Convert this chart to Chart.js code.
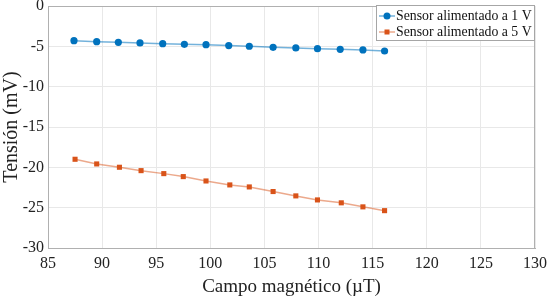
<!DOCTYPE html>
<html>
<head>
<meta charset="utf-8">
<script src="https://cdn.jsdelivr.net/npm/chart.js@4"></script>
<style>
  html, body { margin: 0; padding: 0; background: #fff; }
  #wrap { width: 551px; height: 298px; }
</style>
</head>
<body>
<div id="wrap"><canvas id="myChart" width="551" height="298"></canvas></div>
<script>
// data
var campo1V = [87.4, 89.5, 91.5, 93.5, 95.6, 97.6, 99.6, 101.7, 103.6, 105.8, 107.9, 109.9, 112.0, 114.1, 116.1];
var tension1V = [-4.30, -4.42, -4.50, -4.58, -4.67, -4.75, -4.79, -4.91, -4.99, -5.12, -5.20, -5.29, -5.37, -5.45, -5.58];
var campo5V = [87.5, 89.5, 91.6, 93.6, 95.7, 97.5, 99.6, 101.8, 103.6, 105.8, 107.9, 109.9, 112.1, 114.1, 116.1];
var tension5V = [-19.0, -19.58, -19.99, -20.41, -20.78, -21.15, -21.69, -22.18, -22.43, -23.0, -23.54, -24.04, -24.4, -24.9, -25.37];
var seriesNames = ['Sensor alimentado a 1 V', 'Sensor alimentado a 5 V'];
var xTicks = [85, 90, 95, 100, 105, 110, 115, 120, 125, 130];
var yTicks = [0, -5, -10, -15, -20, -25, -30];

var serif = "'Liberation Serif', 'Times New Roman', serif";

function toPoints(xs, ys) {
    return xs.map(function (x, i) { return { x: x, y: ys[i] }; });
}

// legend box drawn inside the plot, top right
var boxLegend = {
    id: 'boxLegend',
    afterDraw: function (chart) {
        var ctx = chart.ctx;
        var area = chart.chartArea;
        var w = 159, h = 36;
        var x0 = area.right - w, y0 = area.top - 1;
        ctx.save();
        ctx.fillStyle = '#fff';
        ctx.fillRect(x0, y0, w, h);
        ctx.strokeStyle = '#a6a6a6';
        ctx.lineWidth = 1;
        ctx.strokeRect(x0 + 0.5, y0 + 0.5, w - 1, h - 1);
        ctx.font = '13.8px ' + serif;
        ctx.textBaseline = 'middle';
        chart.data.datasets.forEach(function (ds, i) {
            var cy = y0 + 11 + i * 16;
            ctx.strokeStyle = ds.borderColor;
            ctx.lineWidth = 1.5;
            ctx.beginPath();
            ctx.moveTo(x0 + 3, cy);
            ctx.lineTo(x0 + 19, cy);
            ctx.stroke();
            ctx.fillStyle = ds.pointBackgroundColor;
            if (ds.pointStyle === 'rect') {
                ctx.fillRect(x0 + 8.5, cy - 2.5, 5, 5);
            } else {
                ctx.beginPath();
                ctx.arc(x0 + 11, cy, 3.5, 0, Math.PI * 2);
                ctx.fill();
            }
            ctx.fillStyle = '#111';
            ctx.fillText(ds.label, x0 + 20, cy);
        });
        ctx.restore();
    }
};

var ctx = document.getElementById('myChart').getContext('2d');
var myChart = new Chart(ctx, {
    type: 'scatter',
    data: {
        datasets: [{
            label: seriesNames[0],
            data: toPoints(campo1V, tension1V),
            showLine: true,
            borderColor: 'rgba(0, 114, 189, 0.55)',
            borderWidth: 1.5,
            pointStyle: 'circle',
            pointRadius: 3.6,
            pointBackgroundColor: '#0072BD',
            pointBorderColor: '#0072BD',
            pointBorderWidth: 0
        }, {
            label: seriesNames[1],
            data: toPoints(campo5V, tension5V),
            showLine: true,
            borderColor: 'rgba(217, 83, 25, 0.5)',
            borderWidth: 1.5,
            pointStyle: 'rect',
            pointRadius: 3.6,
            pointBackgroundColor: '#D95319',
            pointBorderColor: '#D95319',
            pointBorderWidth: 0
        }]
    },
    options: {
        responsive: false,
        animation: false,
        layout: { padding: { top: 6, right: 16, left: 0, bottom: 0 } },
        plugins: {
            legend: { display: false },
            tooltip: { enabled: false }
        },
        scales: {
            x: {
                type: 'linear',
                min: 85,
                max: 130,
                afterBuildTicks: function (scale) {
                    scale.ticks = xTicks.map(function (v) { return { value: v }; });
                },
                afterFit: function (scale) {
                    scale.height = 50;
                    scale.paddingLeft = 0;
                    scale.paddingRight = 0;
                },
                grid: { color: '#e8e8e8', drawTicks: false },
                border: { color: '#b0b0b0' },
                ticks: {
                    color: '#222',
                    padding: 6,
                    maxRotation: 0,
                    font: { family: serif, size: 16 }
                },
                title: {
                    display: true,
                    text: 'Campo magnético (µT)',
                    color: '#222',
                    padding: { top: 0, bottom: 0 },
                    font: { family: serif, size: 19 }
                }
            },
            y: {
                type: 'linear',
                min: -30,
                max: 0,
                afterBuildTicks: function (scale) {
                    scale.ticks = yTicks.map(function (v) { return { value: v }; });
                },
                afterFit: function (scale) {
                    scale.width = 48;
                    scale.paddingTop = 0;
                    scale.paddingBottom = 0;
                },
                grid: { color: '#e8e8e8', drawTicks: false },
                border: { color: '#b0b0b0' },
                ticks: {
                    color: '#222',
                    padding: 4,
                    font: { family: serif, size: 16 }
                },
                title: {
                    display: true,
                    text: 'Tensión (mV)',
                    color: '#222',
                    padding: { top: 0, bottom: 0 },
                    font: { family: serif, size: 20 }
                }
            }
        }
    },
    plugins: [{
        id: 'frame',
        afterDatasetsDraw: function (chart) {
            var a = chart.chartArea, c = chart.ctx;
            c.save();
            c.strokeStyle = '#b0b0b0';
            c.lineWidth = 1;
            c.beginPath();
            c.moveTo(a.left, a.top + 0.5);
            c.lineTo(a.right - 0.5, a.top + 0.5);
            c.lineTo(a.right - 0.5, a.bottom);
            c.stroke();
            c.restore();
        }
    }, boxLegend]
});
</script>
</body>
</html>
